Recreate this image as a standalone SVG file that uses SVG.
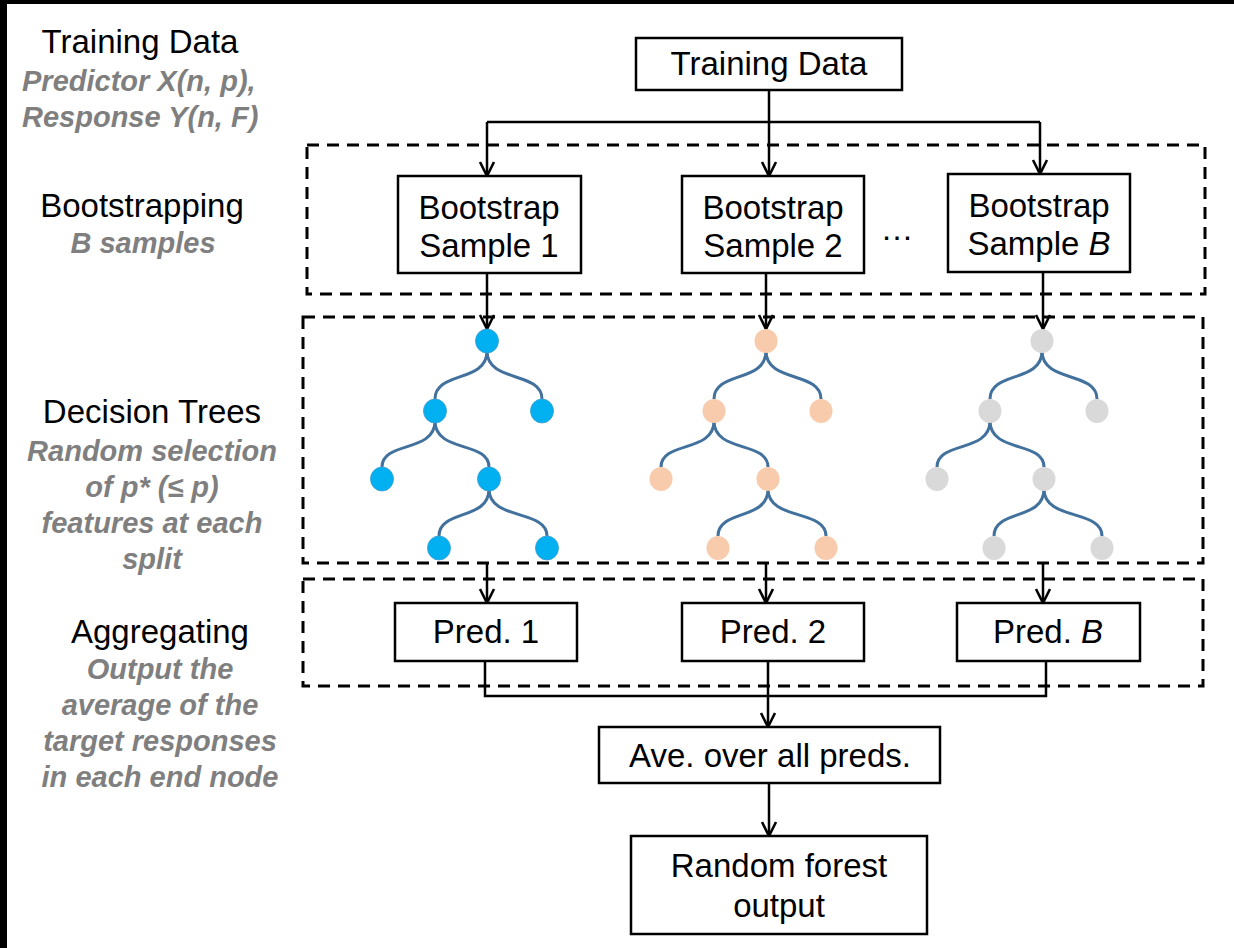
<svg xmlns="http://www.w3.org/2000/svg" xmlns:xlink="http://www.w3.org/1999/xlink" width="1234" height="948" viewBox="0 0 1234 948">
<style>
.lbl{font-family:"Liberation Sans",Arial,sans-serif;font-size:33px;fill:#000;text-anchor:middle}
.sub{font-family:"Liberation Sans",Arial,sans-serif;font-size:29px;font-weight:bold;font-style:italic;fill:#7f7f7f;text-anchor:middle}
.box{fill:#fff;stroke:#000;stroke-width:2.5}
.dash{fill:none;stroke:#000;stroke-width:3;stroke-dasharray:12 8}
.con{fill:none;stroke:#000;stroke-width:2.5}
.arr{marker-end:url(#ah)}
.br{fill:none;stroke:#41719c;stroke-width:3}
.nb{fill:#00b0f0;stroke:#3a9ad0;stroke-width:0.8}
.no{fill:#f8cbad}
.ng{fill:#d9d9d9}
</style>
<defs>
<marker id="ah" markerUnits="userSpaceOnUse" markerWidth="18" markerHeight="18" viewBox="0 0 18 18" refX="16" refY="9" orient="auto">
<path d="M2,2 L16,9 L2,16" fill="none" stroke="#000" stroke-width="2.6"/>
</marker>
<g id="branches" class="br">
<path d="M0,10 C0,42 -52,30 -52,58"/>
<path d="M0,10 C0,42 55,30 55,58"/>
<path d="M-52,80 C-52,112 -105,100 -105,126"/>
<path d="M-52,80 C-52,112 2,100 2,126"/>
<path d="M2,148 C2,180 -48,168 -48,195"/>
<path d="M2,148 C2,180 60,168 60,195"/>
</g>
</defs>
<rect width="1234" height="948" fill="#fff"/>
<rect x="0" y="0" width="1234" height="4" fill="#000"/>
<rect x="0" y="0" width="7" height="948" fill="#000"/>

<g id="side-labels">
<text class="lbl" x="140" y="53">Training Data</text>
<text class="sub" x="22" y="91" style="text-anchor:start">Predictor X(n, p),</text>
<text class="sub" x="22" y="127" style="text-anchor:start">Response Y(n, F)</text>
<text class="lbl" x="142" y="217">Bootstrapping</text>
<text class="sub" x="143" y="253">B samples</text>
<text class="lbl" x="152" y="423">Decision Trees</text>
<text class="sub" x="152" y="461">Random selection</text>
<text class="sub" x="152" y="497">of p* (≤ p)</text>
<text class="sub" x="152" y="533">features at each</text>
<text class="sub" x="152" y="569">split</text>
<text class="lbl" x="160" y="643">Aggregating</text>
<text class="sub" x="160" y="679">Output the</text>
<text class="sub" x="160" y="715">average of the</text>
<text class="sub" x="160" y="751">target responses</text>
<text class="sub" x="160" y="787">in each end node</text>
</g>

<g id="groups">
<rect class="dash" x="307" y="145" width="898" height="149"/>
<rect class="dash" x="303" y="317" width="900" height="246"/>
<rect class="dash" x="303" y="579" width="900" height="107"/>
</g>

<g id="connectors">
<path class="con" d="M769,90 V122 M487,122 H1040"/>
<path class="con arr" d="M487,122 V176"/>
<path class="con arr" d="M769,122 V176"/>
<path class="con arr" d="M1040,122 V174"/>
<path class="con arr" d="M487,273 V329"/>
<path class="con arr" d="M766,273 V329"/>
<path class="con arr" d="M1043,272 V329"/>
<path class="con arr" d="M487,563 V603"/>
<path class="con arr" d="M766,563 V603"/>
<path class="con arr" d="M1043,563 V603"/>
<path class="con" d="M485,661 V696 H1046 V661 M768,661 V696"/>
<path class="con arr" d="M768,696 V727"/>
<path class="con arr" d="M769,783 V836"/>
</g>

<g id="node-training"><rect class="box" x="636" y="38" width="266" height="52"/><text class="lbl" x="769" y="75">Training Data</text></g>
<g id="node-bs1"><rect class="box" x="398" y="176" width="183" height="97"/><text class="lbl" x="489" y="219">Bootstrap</text><text class="lbl" x="489" y="257">Sample 1</text></g>
<g id="node-bs2"><rect class="box" x="682" y="176" width="182" height="97"/><text class="lbl" x="773" y="219">Bootstrap</text><text class="lbl" x="773" y="257">Sample 2</text></g>
<g id="node-dots"><text class="lbl" x="897" y="240">…</text></g>
<g id="node-bsB"><rect class="box" x="948" y="174" width="182" height="98"/><text class="lbl" x="1039" y="217">Bootstrap</text><text class="lbl" x="1039" y="255">Sample <tspan font-style="italic">B</tspan></text></g>

<g id="tree-1" transform="translate(487,341)">
<use xlink:href="#branches" href="#branches"/>
<g class="nb">
<ellipse cx="0" cy="0" rx="11.5" ry="12"/>
<ellipse cx="-52" cy="70" rx="11.5" ry="12"/>
<ellipse cx="55" cy="70" rx="11.5" ry="12"/>
<ellipse cx="-105" cy="138" rx="11.5" ry="12"/>
<ellipse cx="2" cy="138" rx="11.5" ry="12"/>
<ellipse cx="-48" cy="207" rx="11.5" ry="12"/>
<ellipse cx="60" cy="207" rx="11.5" ry="12"/>
</g>
</g>
<g id="tree-2" transform="translate(766,341)">
<use xlink:href="#branches" href="#branches"/>
<g class="no">
<ellipse cx="0" cy="0" rx="11.5" ry="12"/>
<ellipse cx="-52" cy="70" rx="11.5" ry="12"/>
<ellipse cx="55" cy="70" rx="11.5" ry="12"/>
<ellipse cx="-105" cy="138" rx="11.5" ry="12"/>
<ellipse cx="2" cy="138" rx="11.5" ry="12"/>
<ellipse cx="-48" cy="207" rx="11.5" ry="12"/>
<ellipse cx="60" cy="207" rx="11.5" ry="12"/>
</g>
</g>
<g id="tree-B" transform="translate(1042,341)">
<use xlink:href="#branches" href="#branches"/>
<g class="ng">
<ellipse cx="0" cy="0" rx="11.5" ry="12"/>
<ellipse cx="-52" cy="70" rx="11.5" ry="12"/>
<ellipse cx="55" cy="70" rx="11.5" ry="12"/>
<ellipse cx="-105" cy="138" rx="11.5" ry="12"/>
<ellipse cx="2" cy="138" rx="11.5" ry="12"/>
<ellipse cx="-48" cy="207" rx="11.5" ry="12"/>
<ellipse cx="60" cy="207" rx="11.5" ry="12"/>
</g>
</g>

<g id="node-pred1"><rect class="box" x="395" y="603" width="182" height="58"/><text class="lbl" x="486" y="643">Pred. 1</text></g>
<g id="node-pred2"><rect class="box" x="682" y="603" width="182" height="58"/><text class="lbl" x="773" y="643">Pred. 2</text></g>
<g id="node-predB"><rect class="box" x="957" y="603" width="183" height="58"/><text class="lbl" x="1048" y="643">Pred. <tspan font-style="italic">B</tspan></text></g>
<g id="node-ave"><rect class="box" x="599" y="727" width="341" height="56"/><text class="lbl" x="770" y="767">Ave. over all preds.</text></g>
<g id="node-rf"><rect class="box" x="631" y="836" width="296" height="98"/><text class="lbl" x="779" y="877">Random forest</text><text class="lbl" x="779" y="917">output</text></g>
</svg>
